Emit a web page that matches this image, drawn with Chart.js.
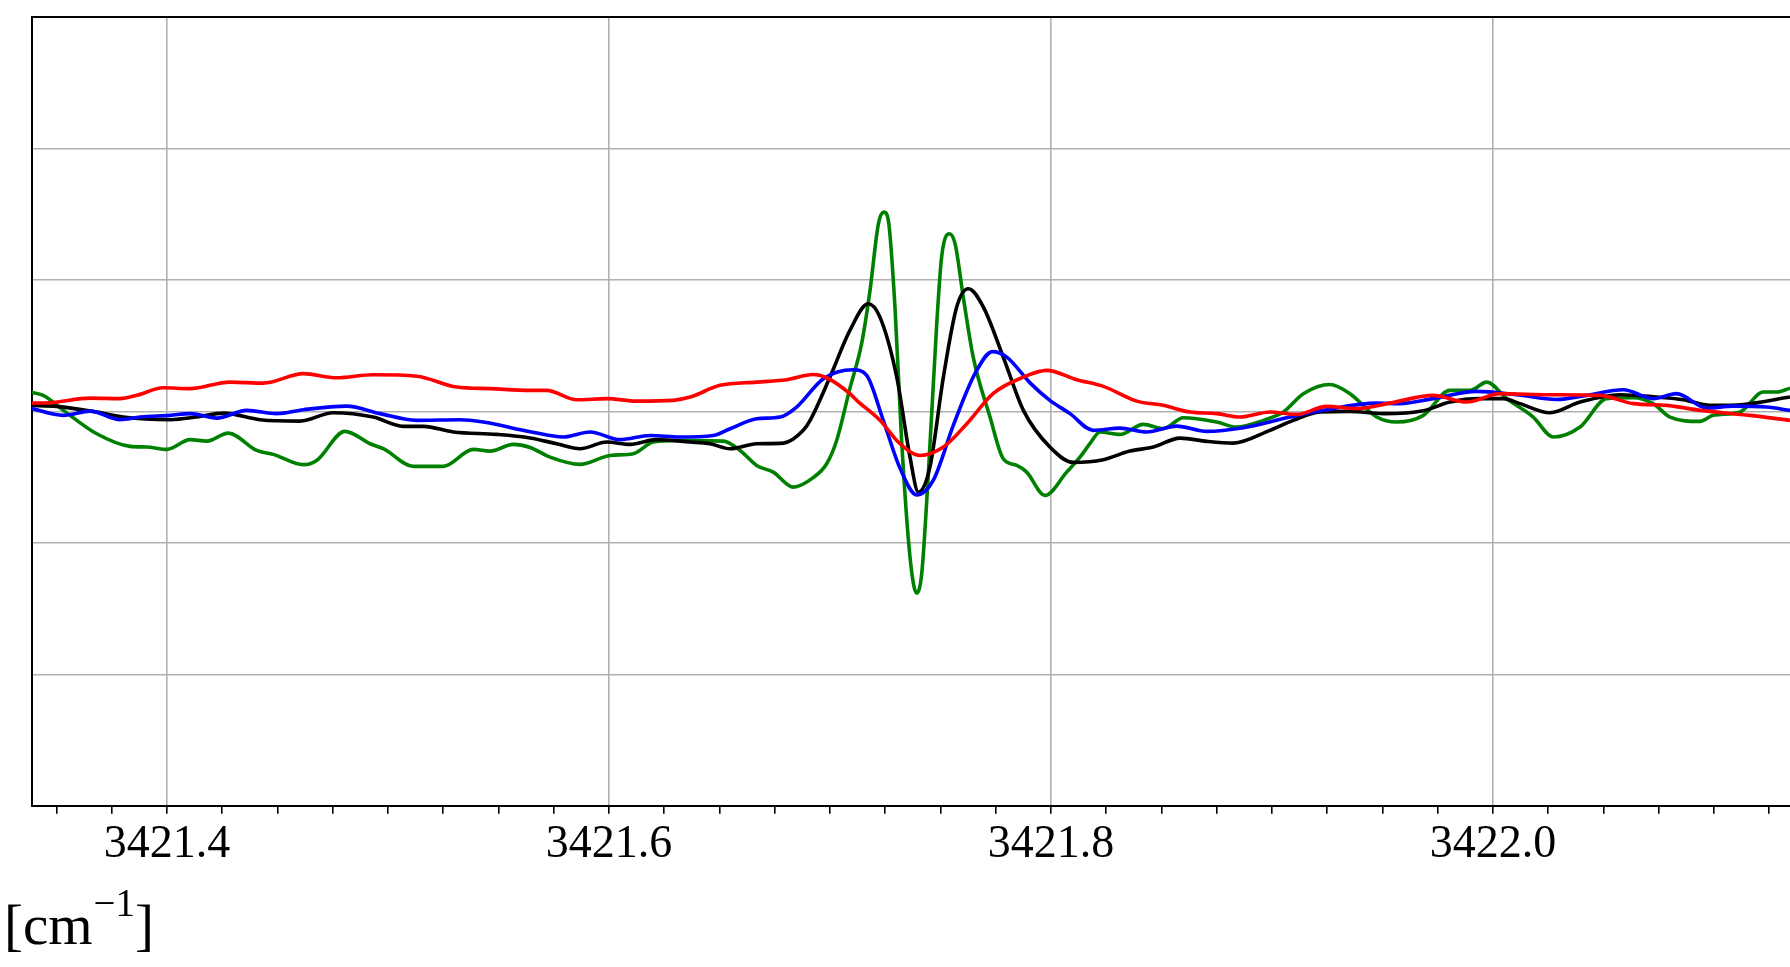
<!DOCTYPE html>
<html>
<head>
<meta charset="utf-8">
<script src="https://cdn.jsdelivr.net/npm/chart.js@4/dist/chart.umd.min.js"></script>
<style>
  html, body { margin: 0; padding: 0; background: #fff; overflow: hidden; }
  canvas { display: block; }
</style>
</head>
<body>
<canvas id="chart" width="1790" height="967"></canvas>
<script>
// wavenumber axis
const xMin = 3421.3389;
const xMax = 3422.1344;
const xMajorTicks = [3421.4, 3421.6, 3421.8, 3422.0];
const xTickLabels = ['3421.4', '3421.6', '3421.8', '3422.0'];
const xUnitLabel = ['[cm', '\u22121', ']'];

// green trace
const greenX = [3421.3380, 3421.3440, 3421.3531, 3421.3682, 3421.3833, 3421.3908, 3421.4000, 3421.4104, 3421.4180, 3421.4277,
    3421.4406, 3421.4481, 3421.4617, 3421.4677, 3421.4805, 3421.4919, 3421.4979, 3421.5115, 3421.5250, 3421.5386,
    3421.5462, 3421.5567, 3421.5643, 3421.5733, 3421.5869, 3421.6005, 3421.6110, 3421.6200, 3421.6321, 3421.6517,
    3421.6593, 3421.6668, 3421.6743, 3421.6834, 3421.6924, 3421.6985, 3421.7030, 3421.7090, 3421.7143, 3421.7181,
    3421.7219, 3421.7244, 3421.7264, 3421.7294, 3421.7324, 3421.7362, 3421.7392, 3421.7415, 3421.7445, 3421.7483,
    3421.7505, 3421.7540, 3421.7566, 3421.7603, 3421.7648, 3421.7724, 3421.7784, 3421.7845, 3421.7890, 3421.7973,
    3421.8071, 3421.8131, 3421.8176, 3421.8222, 3421.8312, 3421.8418, 3421.8508, 3421.8599, 3421.8750, 3421.8840,
    3421.8961, 3421.9051, 3421.9142, 3421.9262, 3421.9353, 3421.9474, 3421.9564, 3421.9685, 3421.9805, 3421.9896,
    3421.9972, 3422.0062, 3422.0182, 3422.0273, 3422.0394, 3422.0514, 3422.0635, 3422.0725, 3422.0801, 3422.0937,
    3422.0997, 3422.1118, 3422.1223, 3422.1284, 3422.1344];
const greenY = [0.147, 0.122, 0.008, -0.170, -0.266, -0.271, -0.289, -0.215, -0.226, -0.165,
    -0.297, -0.327, -0.405, -0.373, -0.152, -0.246, -0.284, -0.418, -0.418, -0.289,
    -0.302, -0.251, -0.274, -0.348, -0.403, -0.335, -0.322, -0.233, -0.221, -0.226,
    -0.297, -0.411, -0.462, -0.576, -0.504, -0.398, -0.221, 0.175, 0.515, 0.920,
    1.427, 1.516, 1.452, 0.793, -0.221, -1.108, -1.382, -1.234, -0.474, 0.667,
    1.173, 1.351, 1.275, 0.869, 0.413, -0.043, -0.360, -0.411, -0.462, -0.639,
    -0.462, -0.348, -0.246, -0.157, -0.175, -0.099, -0.132, -0.048, -0.081, -0.119,
    -0.068, -0.005, 0.135, 0.205, 0.135, -0.043, -0.081, -0.030, 0.160, 0.160,
    0.223, 0.097, -0.043, -0.195, -0.119, 0.097, 0.104, 0.059, -0.043, -0.076,
    -0.030, -0.005, 0.147, 0.147, 0.177];

// black trace
const blackX = [3421.3380, 3421.3501, 3421.3682, 3421.3802, 3421.4014, 3421.4134, 3421.4255, 3421.4421, 3421.4602, 3421.4752,
    3421.4933, 3421.5069, 3421.5160, 3421.5296, 3421.5492, 3421.5643, 3421.5763, 3421.5869, 3421.5990, 3421.6095,
    3421.6216, 3421.6367, 3421.6457, 3421.6548, 3421.6668, 3421.6789, 3421.6879, 3421.6910, 3421.7000, 3421.7090,
    3421.7173, 3421.7226, 3421.7302, 3421.7362, 3421.7400, 3421.7452, 3421.7513, 3421.7573, 3421.7626, 3421.7694,
    3421.7784, 3421.7875, 3421.7995, 3421.8101, 3421.8237, 3421.8357, 3421.8463, 3421.8584, 3421.8705, 3421.8825,
    3421.8991, 3421.9096, 3421.9217, 3421.9353, 3421.9504, 3421.9685, 3421.9805, 3421.9941, 3422.0047, 3422.0122,
    3422.0258, 3422.0394, 3422.0575, 3422.0741, 3422.0861, 3422.0982, 3422.1133, 3422.1344];
const blackY = [0.046, 0.038, -0.005, -0.043, -0.063, -0.043, -0.013, -0.063, -0.074, -0.010,
    -0.043, -0.114, -0.114, -0.157, -0.175, -0.202, -0.246, -0.284, -0.233, -0.251,
    -0.215, -0.233, -0.246, -0.284, -0.246, -0.241, -0.144, -0.068, 0.261, 0.616,
    0.819, 0.717, 0.261, -0.348, -0.614, -0.424, 0.261, 0.793, 0.933, 0.793,
    0.413, 0.008, -0.271, -0.388, -0.367, -0.302, -0.271, -0.203, -0.228, -0.241,
    -0.144, -0.068, -0.005, 0.000, -0.017, 0.005, 0.071, 0.097, 0.097, 0.059,
    -0.010, 0.071, 0.127, 0.109, 0.089, 0.046, 0.053, 0.110];

// blue trace
const blueX = [3421.3380, 3421.3531, 3421.3652, 3421.3787, 3421.3878, 3421.4014, 3421.4104, 3421.4225, 3421.4361, 3421.4496,
    3421.4617, 3421.4813, 3421.4964, 3421.5130, 3421.5326, 3421.5431, 3421.5643, 3421.5793, 3421.5914, 3421.6050,
    3421.6186, 3421.6321, 3421.6472, 3421.6548, 3421.6668, 3421.6774, 3421.6849, 3421.6970, 3421.7105, 3421.7166,
    3421.7241, 3421.7317, 3421.7392, 3421.7467, 3421.7558, 3421.7656, 3421.7735, 3421.7800, 3421.7905, 3421.7995,
    3421.8086, 3421.8191, 3421.8312, 3421.8433, 3421.8569, 3421.8705, 3421.8870, 3421.9081, 3421.9232, 3421.9474,
    3421.9579, 3421.9730, 3421.9926, 3422.0107, 3422.0288, 3422.0424, 3422.0590, 3422.0725, 3422.0831, 3422.0967,
    3422.1087, 3422.1238, 3422.1344];
const blueY = [0.025, -0.030, 0.002, -0.063, -0.043, -0.030, -0.017, -0.051, 0.008, -0.017,
    0.013, 0.040, -0.017, -0.068, -0.063, -0.081, -0.154, -0.195, -0.157, -0.215,
    -0.183, -0.195, -0.183, -0.132, -0.056, -0.043, 0.033, 0.249, 0.317, 0.274,
    -0.068, -0.433, -0.635, -0.525, -0.106, 0.287, 0.455, 0.413, 0.217, 0.084,
    -0.017, -0.144, -0.127, -0.157, -0.112, -0.152, -0.124, -0.043, 0.008, 0.063,
    0.059, 0.097, 0.152, 0.127, 0.091, 0.122, 0.165, 0.097, 0.135, 0.025,
    0.040, 0.033, 0.008];

// red trace
const redX = [3421.3380, 3421.3471, 3421.3652, 3421.3787, 3421.3863, 3421.3983, 3421.4104, 3421.4285, 3421.4436, 3421.4617,
    3421.4768, 3421.4933, 3421.5130, 3421.5311, 3421.5462, 3421.5643, 3421.5718, 3421.5854, 3421.5990, 3421.6125,
    3421.6291, 3421.6367, 3421.6502, 3421.6668, 3421.6804, 3421.6924, 3421.6985, 3421.7090, 3421.7121, 3421.7226,
    3421.7317, 3421.7407, 3421.7513, 3421.7619, 3421.7739, 3421.7875, 3421.7980, 3421.8116, 3421.8237, 3421.8388,
    3421.8508, 3421.8629, 3421.8750, 3421.8855, 3421.8991, 3421.9112, 3421.9248, 3421.9383, 3421.9534, 3421.9730,
    3421.9881, 3422.0032, 3422.0258, 3422.0484, 3422.0635, 3422.0786, 3422.0937, 3422.1163, 3422.1344];
const redY = [0.063, 0.066, 0.101, 0.097, 0.122, 0.180, 0.173, 0.223, 0.215, 0.287,
    0.256, 0.279, 0.268, 0.185, 0.173, 0.160, 0.160, 0.089, 0.097, 0.078,
    0.084, 0.109, 0.198, 0.223, 0.241, 0.281, 0.256, 0.135, 0.084, -0.068,
    -0.246, -0.335, -0.271, -0.094, 0.137, 0.261, 0.312, 0.241, 0.190, 0.078,
    0.046, -0.005, -0.017, -0.043, -0.005, -0.023, 0.038, 0.021, 0.063, 0.122,
    0.071, 0.135, 0.127, 0.122, 0.059, 0.046, 0.008, -0.030, -0.068];

const serif = "'Liberation Serif', 'DejaVu Serif', serif";

function toPoints(xs, ys) {
    return xs.map((x, i) => ({ x: x, y: ys[i] }));
}

function isMajor(v) {
    return xMajorTicks.some(m => Math.abs(m - v) < 1e-6);
}

function makeLine(color, xs, ys) {
    return {
        data: toPoints(xs, ys),
        borderColor: color,
        borderWidth: 3.6,
        pointRadius: 0,
        fill: false,
        cubicInterpolationMode: 'monotone'
    };
}

// top frame + unit label
const framePlugin = {
    id: 'frame',
    afterDraw(chart) {
        const ctx = chart.ctx;
        const area = chart.chartArea;
        ctx.save();
        ctx.strokeStyle = '#000';
        ctx.lineWidth = 2;
        ctx.beginPath();
        ctx.moveTo(area.left - 1, area.top);
        ctx.lineTo(area.right, area.top);
        ctx.stroke();

        // x unit label, bottom left
        ctx.fillStyle = '#000';
        ctx.textBaseline = 'alphabetic';
        ctx.textAlign = 'left';
        let x = 4;
        const base = 944;
        ctx.font = '57px ' + serif;
        ctx.fillText(xUnitLabel[0], x, base);
        x += ctx.measureText(xUnitLabel[0]).width + 1;
        ctx.font = '39px ' + serif;
        ctx.fillText(xUnitLabel[1], x, base - 28);
        x += ctx.measureText(xUnitLabel[1]).width;
        ctx.font = '57px ' + serif;
        ctx.fillText(xUnitLabel[2], x, base);
        ctx.restore();
    }
};

const minorTicks = [];
for (let k = 0; k <= 31; k++) {
    minorTicks.push(Math.round((3421.35 + k * 0.025) * 1000) / 1000);
}

new Chart(document.getElementById('chart'), {
    type: 'line',
    data: {
        datasets: [
            makeLine('#ff0000', redX, redY),
            makeLine('#0000ff', blueX, blueY),
            makeLine('#000000', blackX, blackY),
            makeLine('#008000', greenX, greenY)
        ]
    },
    options: {
        responsive: false,
        animation: false,
        devicePixelRatio: 1,
        layout: { padding: { left: 32, top: 17, right: 0, bottom: 90 } },
        plugins: { legend: { display: false }, tooltip: { enabled: false } },
        scales: {
            x: {
                type: 'linear',
                min: xMin,
                max: xMax,
                afterBuildTicks: (scale) => {
                    scale.ticks = minorTicks.map(v => ({ value: v, major: isMajor(v) }));
                },
                ticks: {
                    autoSkip: false,
                    maxRotation: 0,
                    padding: 4,
                    color: '#000',
                    font: { family: serif, size: 46 },
                    callback: (v) => {
                        const i = xMajorTicks.findIndex(m => Math.abs(m - v) < 1e-6);
                        return i >= 0 ? xTickLabels[i] : '';
                    }
                },
                grid: {
                    color: (c) => (c.tick && c.tick.major) ? '#b0b0b0' : 'rgba(0,0,0,0)',
                    lineWidth: 1.6,
                    tickColor: '#000',
                    tickLength: 8,
                    tickWidth: 1.6
                },
                border: { color: '#000', width: 2 }
            },
            y: {
                min: -3,
                max: 3,
                ticks: { display: false, stepSize: 1 },
                grid: { color: '#b0b0b0', lineWidth: 1.6, drawTicks: false },
                border: { color: '#000', width: 2 }
            }
        }
    },
    plugins: [framePlugin]
});
</script>
</body>
</html>
